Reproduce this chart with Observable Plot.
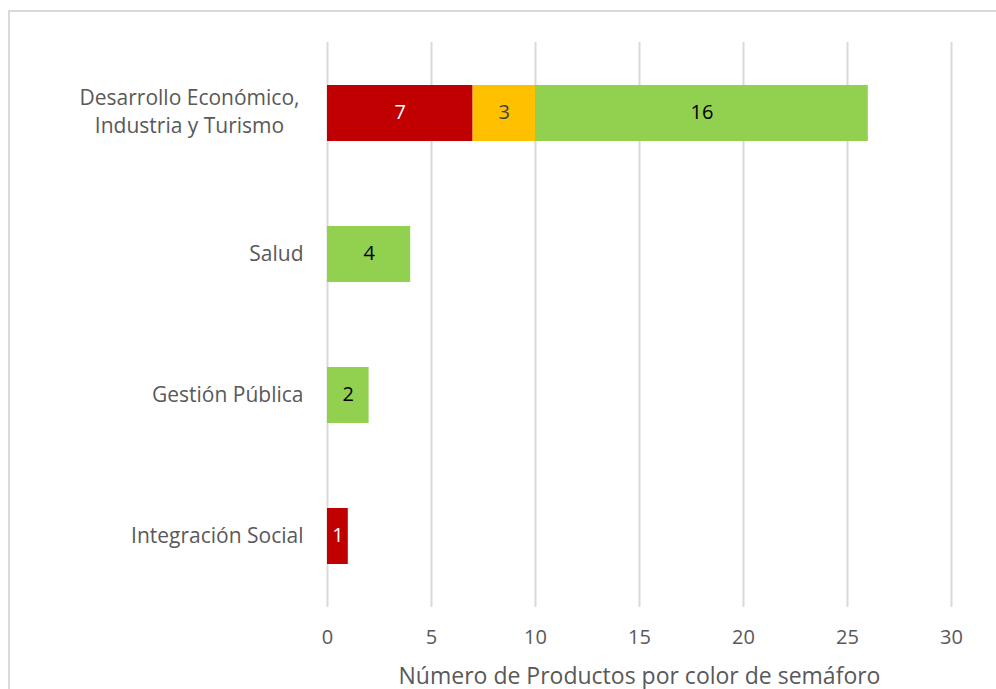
<!DOCTYPE html>
<html>
<head>
<meta charset="utf-8">
<script src="https://cdn.jsdelivr.net/npm/d3@7"></script>
<script src="https://cdn.jsdelivr.net/npm/@observablehq/plot@0.6"></script>
<style>
  html, body { margin: 0; padding: 0; background: #fff; overflow: hidden; }
  #frame { position: absolute; left: 8px; top: 10px; width: 1000px; height: 700px; border: 2px solid #d9d9d9; box-sizing: border-box; }
  #chart { position: absolute; left: 0; top: 0; }
</style>
</head>
<body>
<div id="frame"></div>
<div id="chart"></div>
<script>
const categories = ["Desarrollo Económico,\nIndustria y Turismo", "Salud", "Gestión Pública", "Integración Social"];
const estados = ["Rojo", "Amarillo", "Verde"];
const rojo = [7, 0, 0, 1];
const amarillo = [3, 0, 0, 0];
const verde = [16, 4, 2, 0];
const xTicks = [0, 5, 10, 15, 20, 25, 30];
const xLabel = "Número de Productos por color de semáforo";

const series = { Rojo: rojo, Amarillo: amarillo, Verde: verde };
const rows = [];
categories.forEach((c, i) => {
  estados.forEach(e => {
    const v = series[e][i];
    if (v > 0) rows.push({ categoria: c, estado: e, valor: v });
  });
});

const colors = ["#C00000", "#FFC000", "#92D050"];
const textColors = { Rojo: "#ffffff", Amarillo: "#404040", Verde: "#000000" };
const font = "'Open Sans', sans-serif";

const multiLine = categories.filter(c => c.includes("\n"));
const singleLine = categories.filter(c => !c.includes("\n"));

const chart = Plot.plot({
  width: 996,
  height: 689,
  marginLeft: 327,
  marginRight: 45,
  marginTop: 42,
  marginBottom: 82,
  style: { fontFamily: font, background: "transparent" },
  x: { domain: [0, 30], ticks: xTicks },
  y: { domain: categories, paddingInner: 0.6, paddingOuter: 0.3 },
  color: { domain: estados, range: colors },
  marks: [
    Plot.gridX(xTicks, { stroke: "#d9d9d9", strokeOpacity: 1, strokeWidth: 2 }),
    Plot.barX(rows, Plot.stackX({ x: "valor", y: "categoria", fill: "estado", order: estados })),
    Plot.text(rows, Plot.stackX({ x: "valor", y: "categoria", z: "estado", order: estados, text: d => String(d.valor), fill: d => textColors[d.estado], fontSize: 20, dy: -1 })),
    Plot.axisX(xTicks, { tickSize: 0, tickPadding: 22, fontSize: 20, fill: "#595959", label: null }),
    Plot.axisY(singleLine, { tickSize: 0, tickPadding: 24, fontSize: 21, fill: "#595959", label: null, dy: 0 }),
    Plot.axisY(multiLine, { tickSize: 0, tickPadding: 138, textAnchor: "middle", fontSize: 21, fill: "#595959", label: null, lineHeight: 1.33, dy: -3 }),
    Plot.text([xLabel], { frameAnchor: "bottom", dy: 76, fontSize: 23, fill: "#595959" })
  ]
});
document.getElementById("chart").appendChild(chart);
</script>
</body>
</html>
